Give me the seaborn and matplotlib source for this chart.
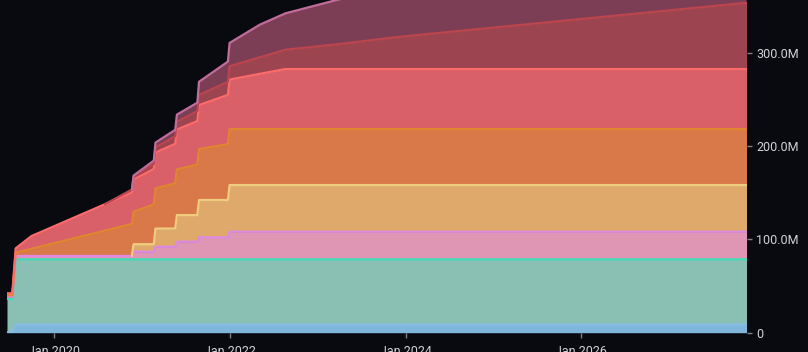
import numpy as np
import pandas as pd
import seaborn as sns
import matplotlib.pyplot as plt
import matplotlib.dates as mdates
from matplotlib.ticker import FuncFormatter

# dates of the schedule points (steps drawn as a pair one week apart)
dates = ["2019-06-20", "2019-07-12", "2019-07-26", "2019-09-30", "2020-07-31",
         "2020-11-20", "2020-11-27", "2021-02-19", "2021-02-26",
         "2021-05-19", "2021-05-26", "2021-08-19", "2021-08-26",
         "2021-12-24", "2021-12-31", "2022-05-06", "2022-08-20",
         "2023-03-22", "2023-12-08", "2027-11-18"]

# unlocked amounts per bucket, in millions
blue = [0.5, 0.5, 8.8, 8.8, 8.8, 8.8, 8.8, 8.8, 8.8, 8.8, 8.8, 8.8, 8.8,
        8.8, 8.8, 8.8, 8.8, 8.8, 8.8, 8.8]
teal = [35.5, 35.5, 69.8, 69.8, 69.8, 69.8, 69.8, 69.8, 69.8, 69.8, 69.8,
        69.8, 69.8, 69.8, 69.8, 69.8, 69.8, 69.8, 69.8, 69.8]
pink = [2.6, 2.6, 3.6, 3.6, 3.6, 3.6, 8.2, 8.2, 13.5, 13.5, 18.9, 18.9,
        23.6, 23.6, 29.6, 29.6, 29.6, 29.6, 29.6, 29.6]
gold = [0, 0, 0, 0, 0, 0, 8.0, 8.0, 19.5, 19.5, 28.5, 28.5, 40.0, 40.0,
        50.0, 50.0, 50.0, 50.0, 50.0, 50.0]
orange = [1.5, 1.5, 3.5, 7.7, 27.1, 34.3, 34.8, 42.6, 43.0, 48.5, 49.0,
          54.0, 54.5, 59.8, 60.0, 60.0, 60.0, 60.0, 60.0, 60.0]
red = [2.1, 2.1, 4.7, 13.7, 28.4, 33.8, 34.5, 38.0, 38.4, 42.3, 42.7,
       46.8, 47.2, 52.8, 53.0, 59.2, 64.3, 64.3, 64.3, 64.3]
darkred = [0, 0, 0, 0, 0, 3.1, 3.3, 5.5, 5.7, 8.0, 8.2, 10.6, 10.8, 14.0,
           14.3, 17.7, 20.7, 26.5, 34.6, 71.0]
purple = [0, 0, 0, 0, 0, 0, 1.0, 3.5, 5.0, 7.0, 7.8, 9.1, 14.2, 21.7,
          25.0, 35.0, 39.0, 47.6, 55.0, 80.0]

layers = [blue, teal, pink, gold, orange, red, darkred, purple]
fills = ["#7fb6dc", "#8abfb4", "#df95b4", "#dea96b", "#d97849", "#d96068",
         "#9c4550", "#7b3e55"]
lines = ["#86bde3", "#3fdcb6", "#dc8ae3", "#efcd7e", "#e0862f", "#ff6b6b",
         "#bd454e", "#c26c9c"]

bg = "#090a0f"
sns.set_theme(style="dark", rc={"axes.facecolor": bg, "figure.facecolor": bg})
plt.rcParams["font.family"] = ["Roboto", "DejaVu Sans"]

x = pd.to_datetime(dates)
vals = np.array(layers, dtype=float)
tops = np.cumsum(vals, axis=0)

fig = plt.figure(figsize=(8.08, 3.52), dpi=100)
ax = fig.add_axes([7 / 808, 19.3 / 352, 739.5 / 808, 332.7 / 352])

lower = np.zeros(len(x))
for i in range(len(layers)):
    ax.fill_between(x, lower, tops[i], color=fills[i], lw=0)
    lower = tops[i]

for i in range(len(layers)):
    nz = np.nonzero(vals[i])[0]
    start = max(nz[0] - 1, 0) if nz[0] > 0 else 0
    sns.lineplot(x=x[start:], y=tops[i][start:], color=lines[i], lw=1.6,
                 estimator=None, sort=False, ax=ax)

ax.set_xlim(pd.Timestamp("2019-06-20"), pd.Timestamp("2027-11-18"))
ax.set_ylim(0, 356.5)
ax.yaxis.tick_right()
ax.set_yticks([0, 100, 200, 300])
ax.yaxis.set_major_formatter(FuncFormatter(lambda v, p: "0" if v == 0 else f"{v:.1f}M"))
ax.xaxis.set_major_locator(mdates.YearLocator(2))
ax.xaxis.set_major_formatter(mdates.DateFormatter("%b %Y"))
ax.tick_params(axis="both", colors="#808080", labelcolor="#d2d3d7",
               labelsize=9, length=3.5, width=1, bottom=True, right=True)
ax.tick_params(axis="x", pad=5)
ax.tick_params(axis="y", pad=3.5)
ax.set_xlabel("")
ax.set_ylabel("")
ax.grid(False)
for s in ax.spines.values():
    s.set_visible(False)

fig.savefig("out.png", dpi=100, facecolor=bg)
